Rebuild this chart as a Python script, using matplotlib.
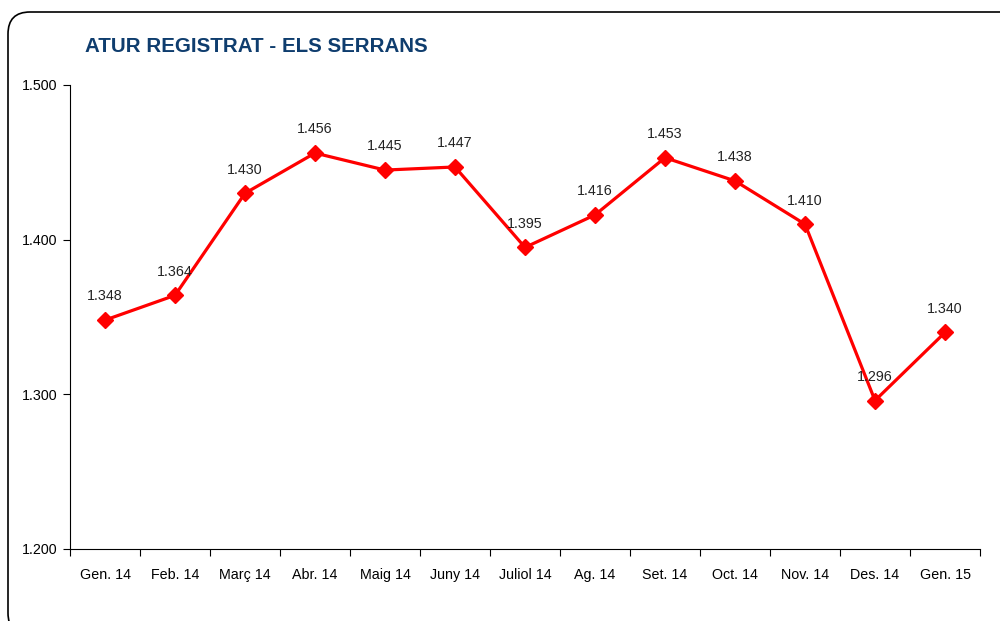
import matplotlib
matplotlib.use('Agg')
import matplotlib.pyplot as plt
from matplotlib.patches import FancyBboxPatch
from matplotlib.ticker import FuncFormatter

months = ['Gen. 14', 'Feb. 14', 'Març 14', 'Abr. 14', 'Maig 14', 'Juny 14', 'Juliol 14',
          'Ag. 14', 'Set. 14', 'Oct. 14', 'Nov. 14', 'Des. 14', 'Gen. 15']
atur = [1348, 1364, 1430, 1456, 1445, 1447, 1395, 1416, 1453, 1438, 1410, 1296, 1340]
yticks = [1200, 1300, 1400, 1500]

plt.rcParams['font.family'] = ['Liberation Sans', 'DejaVu Sans']

def fmt(v):
    return f'{int(v):,}'.replace(',', '.')

fig = plt.figure(figsize=(10, 6.21), dpi=100)
W, H = 1000, 621

# rounded frame around the chart
frame = FancyBboxPatch((8 / W, -14 / H), 1030 / W, 623 / H,
                       boxstyle='round,pad=0,rounding_size=0.022',
                       transform=fig.transFigure, fill=False,
                       edgecolor='black', linewidth=1.2, mutation_aspect=W / H)
fig.patches.append(frame)

ax = fig.add_axes([70 / W, 1 - 549 / H, 910 / W, (549 - 85) / H])
x = list(range(len(months)))
ax.plot(x, atur, color='#FF0000', linewidth=2.3, marker='D', markersize=8,
        markeredgecolor='#FF0000', markerfacecolor='#FF0000')
for xi, v in zip(x, atur):
    ax.annotate(fmt(v), (xi, v), xytext=(0, 12), textcoords='offset points',
                ha='center', va='bottom', fontsize=10.3, color='#222222')

ax.set_xlim(-0.5, len(months) - 0.5)
ax.set_ylim(1200, 1500)
ax.set_yticks(yticks)
ax.yaxis.set_major_formatter(FuncFormatter(lambda v, p: fmt(v)))
ax.set_xticks([i + 0.5 for i in range(-1, len(months))])
ax.set_xticklabels([])
ax.set_xticks(x, minor=True)
ax.set_xticklabels(months, minor=True)
ax.tick_params(axis='x', which='minor', length=0, pad=14, labelsize=10.3)
ax.tick_params(axis='x', which='major', direction='out', length=5)
ax.tick_params(axis='y', direction='out', length=5, labelsize=10.3, pad=4)
ax.spines['top'].set_visible(False)
ax.spines['right'].set_visible(False)

fig.text(85 / W, 1 - 46 / H, 'ATUR REGISTRAT - ELS SERRANS', fontsize=14.8,
         fontweight='bold', color='#0F3D6E', va='center', ha='left')

fig.savefig('out.png', dpi=100)
